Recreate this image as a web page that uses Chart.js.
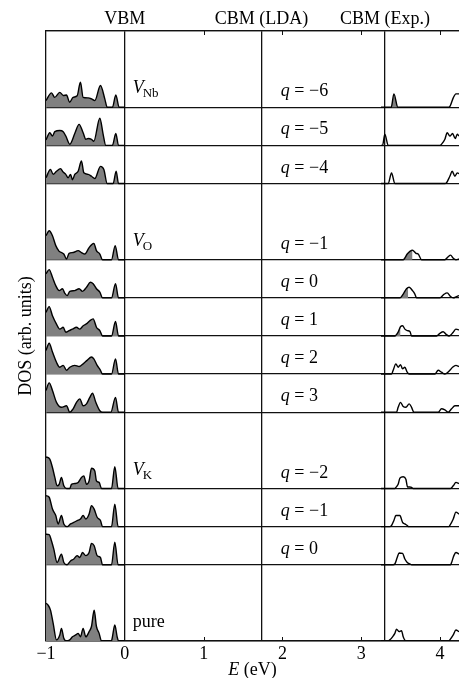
<!DOCTYPE html>
<html><head><meta charset="utf-8">
<script src="https://cdn.jsdelivr.net/npm/chart.js@4.4.0/dist/chart.umd.min.js"></script>
<style>html,body{margin:0;padding:0;background:#fff;overflow:hidden}#wrap{width:459px;height:678px}</style>
</head><body><div id="wrap"><canvas id="c" width="459" height="678"></canvas></div>
<script>
// ---------- data ----------
const X_TICKS = [-1, 0, 1, 2, 3, 4];
const EDGE_POS = [0, 1.735, 3.3];
const EDGE_LABELS = ['VBM', 'CBM (LDA)', 'CBM (Exp.)'];
const PANEL_Q = ['−6', '−5', '−4', '−1', '0', '1', '2', '3', '−2', '−1', '0', ''];
const GROUP_LABELS = [
  {panel: 0, main: 'V', sub: 'Nb'},
  {panel: 3, main: 'V', sub: 'O'},
  {panel: 8, main: 'V', sub: 'K'},
  {panel: 11, main: 'pure', sub: ''}
];

// valence-band DOS  [E (eV), DOS]
const vbNb6 = [[-1,0.175],[-0.93,0.376],[-0.89,0.26],[-0.825,0.39],[-0.78,0.31],[-0.74,0.32],[-0.70,0.13],[-0.656,0.26],[-0.605,0.30],[-0.563,0.66],[-0.529,0.26],[-0.465,0.245],[-0.423,0.22],[-0.381,0.175],[-0.309,0.57],[-0.254,0.22],[-0.224,0],[-0.157,0],[-0.114,0.32],[-0.072,0],[0,0]];
const vbNb5 = [[-1,0.14],[-0.952,0.33],[-0.918,0.245],[-0.888,0.36],[-0.825,0.39],[-0.782,0.36],[-0.749,0.245],[-0.698,0.03],[-0.635,0.31],[-0.58,0.55],[-0.529,0.33],[-0.495,0.16],[-0.465,0.18],[-0.423,0.16],[-0.393,0.11],[-0.317,0.71],[-0.275,0.29],[-0.241,0],[-0.157,0],[-0.114,0.31],[-0.08,0],[0,0]];
const vbNb4 = [[-1,0.15],[-0.943,0.37],[-0.909,0.24],[-0.867,0.32],[-0.816,0.39],[-0.782,0.30],[-0.749,0.24],[-0.719,0.15],[-0.689,0.24],[-0.664,0.10],[-0.635,0.24],[-0.592,0.32],[-0.55,0.59],[-0.52,0.28],[-0.465,0.24],[-0.423,0.19],[-0.381,0.13],[-0.309,0.45],[-0.266,0.37],[-0.224,0],[-0.148,0],[-0.11,0.32],[-0.08,0],[0,0]];
const vbO_m1 = [[-1,0.63],[-0.96,0.76],[-0.918,0.63],[-0.876,0.37],[-0.833,0.22],[-0.804,0.19],[-0.774,0.15],[-0.74,0.02],[-0.707,0.17],[-0.656,0.19],[-0.592,0.24],[-0.55,0.19],[-0.508,0.15],[-0.453,0.32],[-0.423,0.39],[-0.393,0.43],[-0.36,0.24],[-0.317,0.15],[-0.283,0],[-0.169,0],[-0.122,0.37],[-0.08,0],[0,0]];
const vbO_0 = [[-1,0.63],[-0.96,0.74],[-0.918,0.54],[-0.876,0.32],[-0.833,0.19],[-0.791,0.24],[-0.761,0.12],[-0.732,0.06],[-0.698,0.17],[-0.635,0.19],[-0.58,0.24],[-0.537,0.17],[-0.486,0.28],[-0.436,0.41],[-0.402,0.37],[-0.36,0.24],[-0.317,0.15],[-0.283,0],[-0.169,0],[-0.118,0.37],[-0.08,0],[0,0]];
const vbO_1 = [[-1,0.62],[-0.96,0.77],[-0.918,0.53],[-0.867,0.31],[-0.825,0.18],[-0.782,0.23],[-0.749,0.10],[-0.707,0.14],[-0.664,0.18],[-0.613,0.23],[-0.571,0.18],[-0.529,0.27],[-0.478,0.33],[-0.444,0.40],[-0.402,0.45],[-0.36,0.23],[-0.317,0.14],[-0.283,0],[-0.169,0],[-0.118,0.38],[-0.08,0],[0,0]];
const vbO_2 = [[-1,0.62],[-0.96,0.81],[-0.918,0.58],[-0.867,0.31],[-0.825,0.18],[-0.782,0.23],[-0.74,0.10],[-0.698,0.18],[-0.635,0.23],[-0.58,0.20],[-0.529,0.27],[-0.478,0.36],[-0.423,0.45],[-0.393,0.40],[-0.351,0.23],[-0.309,0.10],[-0.283,0],[-0.169,0],[-0.118,0.40],[-0.08,0],[0,0]];
const vbO_3 = [[-1,0.57],[-0.96,0.77],[-0.918,0.57],[-0.867,0.26],[-0.804,0.13],[-0.74,0.17],[-0.698,0],[-0.656,0.09],[-0.613,0.26],[-0.571,0.35],[-0.529,0.17],[-0.486,0.22],[-0.444,0.39],[-0.41,0.50],[-0.368,0.26],[-0.317,0.04],[-0.283,0],[-0.178,0],[-0.118,0.39],[-0.08,0],[0,0]];
const vbK_m2 = [[-1,0.83],[-0.952,0.77],[-0.918,0.55],[-0.888,0.29],[-0.859,0.07],[-0.833,0.11],[-0.804,0.29],[-0.774,0.07],[-0.74,0],[-0.698,0],[-0.677,0.11],[-0.635,0.13],[-0.592,0.16],[-0.55,0.29],[-0.52,0.33],[-0.486,0.11],[-0.453,0.20],[-0.423,0.53],[-0.381,0.46],[-0.36,0.20],[-0.326,0.16],[-0.296,0],[-0.169,0],[-0.127,0.57],[-0.085,0],[0,0]];
const vbK_m1 = [[-1,0.81],[-0.96,0.77],[-0.918,0.46],[-0.876,0.29],[-0.846,0.07],[-0.804,0.29],[-0.774,0.07],[-0.732,0],[-0.689,0.07],[-0.647,0.11],[-0.605,0.16],[-0.563,0.20],[-0.529,0.29],[-0.495,0.20],[-0.453,0.33],[-0.423,0.55],[-0.389,0.46],[-0.351,0.245],[-0.309,0.16],[-0.283,0],[-0.169,0],[-0.127,0.59],[-0.085,0],[0,0]];
const vbK_0 = [[-1,0.80],[-0.96,0.79],[-0.931,0.63],[-0.901,0.41],[-0.859,0.06],[-0.804,0.28],[-0.774,0.06],[-0.732,0],[-0.689,0.10],[-0.647,0.15],[-0.605,0.24],[-0.571,0.19],[-0.537,0.32],[-0.495,0.24],[-0.453,0.32],[-0.423,0.56],[-0.389,0.50],[-0.351,0.24],[-0.309,0.19],[-0.283,0],[-0.169,0],[-0.127,0.59],[-0.085,0],[0,0]];
const vbPure = [[-1,0.99],[-0.973,0.94],[-0.943,0.81],[-0.909,0.46],[-0.867,0.03],[-0.825,0.16],[-0.804,0.33],[-0.774,0.07],[-0.74,0],[-0.698,0.03],[-0.664,0.11],[-0.622,0.16],[-0.592,0.20],[-0.563,0.11],[-0.529,0.33],[-0.495,0.11],[-0.453,0.245],[-0.423,0.38],[-0.389,0.81],[-0.36,0.38],[-0.326,0.20],[-0.296,0],[-0.17,0],[-0.157,0.11],[-0.127,0.42],[-0.097,0.11],[-0.08,0],[0,0]];

// conduction-band DOS  [E (eV), DOS]
const cbNb6 = [[3.25,0],[3.38,0],[3.414,0.35],[3.464,0],[4.10,0],[4.124,0.02],[4.167,0.245],[4.201,0.35],[4.24,0.35]];
const cbNb5 = [[3.25,0],[3.27,0],[3.299,0.29],[3.342,0],[4.00,0],[4.018,0.03],[4.061,0.16],[4.09,0.33],[4.124,0.245],[4.158,0.31],[4.192,0.18],[4.218,0.29],[4.24,0.245]];
const cbNb4 = [[3.25,0],[3.342,0],[3.384,0.28],[3.426,0],[4.06,0],[4.082,0.02],[4.124,0.19],[4.154,0.32],[4.188,0.19],[4.218,0.28],[4.24,0.26]];
const cbO_m1 = [[3.25,0],[3.532,0],[3.583,0.15],[3.617,0.22],[3.65,0.25],[3.693,0.17],[3.722,0.15],[3.765,0],[4.061,0],[4.103,0.08],[4.133,0.12],[4.167,0.04],[4.201,0],[4.24,0.02]];
const cbO_0 = [[3.25,0],[3.49,0],[3.532,0.10],[3.574,0.24],[3.608,0.28],[3.65,0.19],[3.68,0.10],[3.701,0],[3.997,0],[4.048,0.09],[4.09,0.13],[4.133,0.035],[4.167,0],[4.209,0.035],[4.24,0.06]];
const cbO_1 = [[3.25,0],[3.426,0],[3.468,0.10],[3.498,0.245],[3.524,0.27],[3.553,0.18],[3.583,0.14],[3.617,0.12],[3.638,0],[3.955,0],[3.997,0.07],[4.04,0.11],[4.073,0.05],[4.116,0],[4.167,0.10],[4.201,0.18],[4.24,0.16]];
const cbO_2 = [[3.25,0],[3.384,0],[3.405,0.10],[3.439,0.27],[3.468,0.18],[3.498,0.25],[3.524,0.14],[3.553,0.18],[3.583,0.05],[3.608,0],[3.934,0],[3.976,0.10],[4.018,0.05],[4.061,0],[4.124,0.10],[4.158,0.18],[4.201,0.23],[4.24,0.20]];
const cbO_3 = [[3.25,0],[3.447,0],[3.468,0.13],[3.498,0.26],[3.532,0.15],[3.566,0.13],[3.608,0.22],[3.638,0.13],[3.667,0],[3.976,0],[4.018,0.09],[4.061,0.06],[4.103,0],[4.146,0.09],[4.188,0.17],[4.24,0.17]];
const cbK_m2 = [[3.25,0],[3.426,0],[3.439,0.03],[3.468,0.11],[3.49,0.27],[3.532,0.31],[3.566,0.245],[3.587,0.04],[3.617,0.04],[3.638,0.03],[3.659,0],[4.13,0],[4.167,0.07],[4.201,0.16],[4.24,0.13]];
const cbK_m1 = [[3.25,0],[3.363,0],[3.384,0.03],[3.414,0.16],[3.439,0.29],[3.49,0.29],[3.524,0.11],[3.553,0.07],[3.583,0.03],[3.6,0],[4.11,0],[4.124,0.03],[4.167,0.20],[4.201,0.38],[4.24,0.33]];
const cbK_0 = [[3.25,0],[3.405,0],[3.426,0.02],[3.456,0.19],[3.481,0.31],[3.524,0.30],[3.553,0.15],[3.583,0.06],[3.617,0.02],[3.64,0],[4.133,0],[4.146,0.06],[4.175,0.24],[4.201,0.32],[4.24,0.28]];
const cbPure = [[3.25,0],[3.342,0],[3.363,0.03],[3.397,0.11],[3.426,0.20],[3.447,0.31],[3.481,0.245],[3.511,0.27],[3.532,0.11],[3.566,0],[4.11,0],[4.124,0.03],[4.167,0.16],[4.201,0.29],[4.24,0.245]];

// occupied (shaded) parts of gap / conduction states
const occNb6 = [[3.38,0],[3.414,0.35],[3.464,0]];
const occO_m1 = [[3.532,0],[3.583,0.15],[3.617,0.22],[3.65,0.25],[3.65,0]];
const occO_0 = [[3.49,0],[3.532,0.10],[3.574,0.24],[3.595,0.27],[3.595,0]];
const occO_1 = [[3.426,0],[3.468,0.10],[3.498,0.245],[3.498,0]];

const PANEL_VB = [vbNb6, vbNb5, vbNb4, vbO_m1, vbO_0, vbO_1, vbO_2, vbO_3, vbK_m2, vbK_m1, vbK_0, vbPure];
const PANEL_CB = [cbNb6, cbNb5, cbNb4, cbO_m1, cbO_0, cbO_1, cbO_2, cbO_3, cbK_m2, cbK_m1, cbK_0, cbPure];
const PANEL_OCC = [occNb6, null, null, occO_m1, occO_0, occO_1, null, null, null, null, null, null];

// ---------- layout (panel offsets in panel-height units) ----------
const PANEL_SLOT = [14, 13, 12, 10, 9, 8, 7, 6, 4, 3, 2, 0];
const Y_MAX = 16;
const X_MIN = -1, X_MAX = 4.24;
const Q_X = 1.98, G_X = 0.1;
const FONT = '"Liberation Serif", "Times New Roman", serif';
const GRAY = '#808080';
const INK = '#111';

const toPts = (arr, base) => arr.map(p => ({x: p[0], y: base + p[1]}));

const datasets = [];
PANEL_VB.forEach((vb, i) => {
  const base = PANEL_SLOT[i];
  datasets.push({data: toPts(vb, base), borderColor: '#000', borderWidth: 1.4, backgroundColor: GRAY,
    fill: {value: base}, pointRadius: 0, cubicInterpolationMode: 'monotone'});
  datasets.push({data: toPts(PANEL_CB[i], base), borderColor: '#000', borderWidth: 1.4,
    fill: false, pointRadius: 0, cubicInterpolationMode: 'monotone'});
  if (PANEL_OCC[i]) {
    datasets.push({data: toPts(PANEL_OCC[i], base), borderWidth: 0, borderColor: 'rgba(0,0,0,0)',
      backgroundColor: GRAY, fill: {value: base}, pointRadius: 0, tension: 0});
  }
});

const annot = {
  id: 'annot',
  afterDraw(chart) {
    const ctx = chart.ctx, xs = chart.scales.x, ys = chart.scales.y, ca = chart.chartArea;
    ctx.save();
    // inward minor ticks
    ctx.strokeStyle = INK; ctx.lineWidth = 1;
    X_TICKS.forEach(v => {
      if (v <= 0) return;
      const px = Math.round(xs.getPixelForValue(v)) + 0.5;
      ctx.beginPath();
      ctx.moveTo(px, ca.top); ctx.lineTo(px, ca.top + 4);
      ctx.moveTo(px, ca.bottom); ctx.lineTo(px, ca.bottom - 4);
      ctx.stroke();
    });
    ctx.fillStyle = '#000'; ctx.textAlign = 'left'; ctx.textBaseline = 'alphabetic';
    // q labels
    PANEL_Q.forEach((q, i) => {
      if (!q) return;
      const y = ys.getPixelForValue(PANEL_SLOT[i]) - 11;
      let x = xs.getPixelForValue(Q_X);
      ctx.font = 'italic 18px ' + FONT; ctx.fillText('q', x, y);
      x += ctx.measureText('q').width;
      ctx.font = '18px ' + FONT; ctx.fillText(' = ' + q, x, y);
    });
    // group labels
    GROUP_LABELS.forEach(g => {
      const y = ys.getPixelForValue(PANEL_SLOT[g.panel]) - 14;
      let x = xs.getPixelForValue(G_X);
      if (g.sub) {
        ctx.font = 'italic 18px ' + FONT; ctx.fillText(g.main, x, y);
        x += ctx.measureText(g.main).width - 1;
        ctx.font = '13px ' + FONT; ctx.fillText(g.sub, x, y + 4);
      } else {
        ctx.font = '18px ' + FONT; ctx.fillText(g.main, x, y);
      }
    });
    // x-axis title
    const cx = (ca.left + ca.right) / 2, ty = 675;
    ctx.font = 'italic 18px ' + FONT; const wE = ctx.measureText('E').width;
    ctx.font = '18px ' + FONT; const wR = ctx.measureText(' (eV)').width;
    let x0 = cx - (wE + wR) / 2;
    ctx.font = 'italic 18px ' + FONT; ctx.fillText('E', x0, ty);
    ctx.font = '18px ' + FONT; ctx.fillText(' (eV)', x0 + wE, ty);
    ctx.restore();
  }
};

new Chart(document.getElementById('c'), {
  type: 'line',
  data: {datasets},
  options: {
    responsive: false, animation: false, devicePixelRatio: 1,
    layout: {padding: 0},
    plugins: {legend: {display: false}, tooltip: {enabled: false}},
    scales: {
      x: {
        type: 'linear', position: 'bottom', min: X_MIN, max: X_MAX,
        afterBuildTicks: s => { s.ticks = X_TICKS.map(v => ({value: v})); },
        afterFit: s => { s.height = 37; },
        grid: {drawOnChartArea: false, drawTicks: false},
        border: {display: true, color: INK, width: 1.3},
        ticks: {color: '#000', font: {family: FONT, size: 18}, padding: 2, autoSkip: false, maxRotation: 0,
          callback: v => v < 0 ? '−' + Math.abs(v) : String(v)}
      },
      xTop: {
        type: 'linear', position: 'top', min: X_MIN, max: X_MAX,
        afterBuildTicks: s => { s.ticks = EDGE_POS.map(v => ({value: v})); },
        afterFit: s => { s.height = 31; },
        grid: {drawOnChartArea: true, drawTicks: false, color: INK, lineWidth: 1.3},
        border: {display: true, color: INK, width: 1.3},
        ticks: {color: '#000', font: {family: FONT, size: 18}, padding: 1, autoSkip: false, maxRotation: 0,
          callback: (v, i) => EDGE_LABELS[i]}
      },
      y: {
        type: 'linear', position: 'left', min: 0, max: Y_MAX,
        afterBuildTicks: s => { s.ticks = [0, ...PANEL_SLOT, Y_MAX].map(v => ({value: v})); },
        afterFit: s => { s.width = 46; },
        grid: {drawTicks: false, color: INK, lineWidth: 1.3},
        border: {display: true, color: INK, width: 1.3},
        ticks: {display: false},
        title: {display: true, text: 'DOS (arb. units)', color: '#000', font: {family: FONT, size: 18}, padding: {top: 15, bottom: 0}}
      }
    }
  },
  plugins: [annot]
});
</script></body></html>
